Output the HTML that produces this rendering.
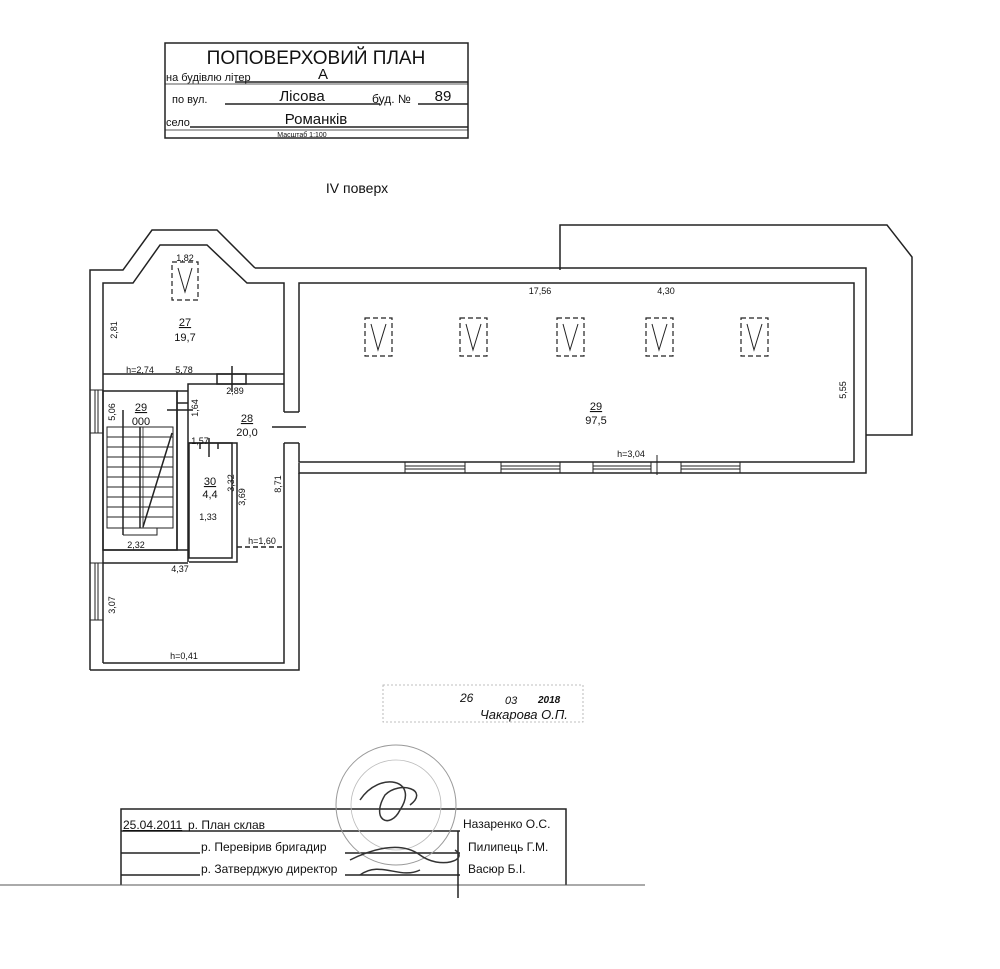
<!DOCTYPE html>
<html><head><meta charset="utf-8"><style>
html,body{margin:0;padding:0;background:#fff}
svg{display:block}
text{font-family:"Liberation Sans","DejaVu Sans",sans-serif;fill:#111}
</style></head><body>
<svg width="1000" height="969" viewBox="0 0 1000 969" xmlns="http://www.w3.org/2000/svg">
<g fill="none" stroke="#222" stroke-width="1.5">
<!-- title block -->
<rect x="165" y="43" width="303" height="95"/>
<line x1="235" y1="82" x2="468" y2="82"/>
<line x1="165" y1="84" x2="468" y2="84" stroke-width="0.8"/>
<line x1="225" y1="104" x2="380" y2="104"/>
<line x1="418" y1="104" x2="468" y2="104"/>
<line x1="190" y1="127" x2="468" y2="127"/>
<line x1="165" y1="130" x2="468" y2="130" stroke-width="0.8"/>

<!-- annex -->
<polyline points="560,270 560,225 887,225 912,257 912,435 866,435"/>
<!-- main building outer/inner -->
<polyline points="255,268 866,268 866,473 299,473 299,463"/>
<polyline points="299,412 299,283 854,283 854,462 299,462 299,443"/>
<!-- left building -->
<polyline points="90,670 90,270 123,270 152,230 217,230 255,268"/>
<polyline points="90,670 299,670 299,473"/>
<polyline points="103,663 103,283 133,283 160,245 207,245 247,283 284,283 284,412"/>
<polyline points="284,443 284,663 103,663"/>
<line x1="284" y1="412" x2="299" y2="412"/><line x1="284" y1="443" x2="299" y2="443"/>
<line x1="272" y1="427" x2="306" y2="427"/>
<!-- windows in bottom wall -->
<g stroke-width="1">
<rect x="405" y="462" width="60" height="11"/><line x1="405" y1="466" x2="465" y2="466"/><line x1="405" y1="469" x2="465" y2="469"/>
<rect x="501" y="462" width="59" height="11"/><line x1="501" y1="466" x2="560" y2="466"/><line x1="501" y1="469" x2="560" y2="469"/>
<rect x="593" y="462" width="58" height="11"/><line x1="593" y1="466" x2="651" y2="466"/><line x1="593" y1="469" x2="651" y2="469"/>
<rect x="681" y="462" width="59" height="11"/><line x1="681" y1="466" x2="740" y2="466"/><line x1="681" y1="469" x2="740" y2="469"/>
<line x1="657" y1="455" x2="657" y2="475"/>
<!-- left windows -->
<rect x="90" y="390" width="13" height="43"/><line x1="95" y1="390" x2="95" y2="433"/><line x1="98" y1="390" x2="98" y2="433"/>
<rect x="90" y="563" width="13" height="57"/><line x1="95" y1="563" x2="95" y2="620"/><line x1="98" y1="563" x2="98" y2="620"/>
</g>
<!-- interior walls -->
<line x1="103" y1="374" x2="284" y2="374"/>
<rect x="217" y="374" width="29" height="10"/>
<line x1="232" y1="366" x2="232" y2="392"/>
<polyline points="188,562 188,384 284,384"/>
<rect x="103" y="391" width="74" height="159"/>
<line x1="177" y1="391" x2="177" y2="550"/>
<line x1="177" y1="391" x2="188" y2="391"/>
<line x1="177" y1="403" x2="188" y2="403"/>
<line x1="167" y1="410" x2="193" y2="410"/>
<line x1="103" y1="550" x2="188" y2="550"/>
<line x1="103" y1="563" x2="188" y2="563"/>
<rect x="189" y="443" width="43" height="115"/>
<polyline points="189,443 237,443 237,562 189,562"/>
<line x1="200" y1="443" x2="200" y2="449"/><line x1="218" y1="443" x2="218" y2="449"/>
<line x1="209" y1="438" x2="209" y2="457"/>
<line x1="237" y1="547" x2="284" y2="547" stroke-dasharray="5,3"/>
<!-- stairs -->
<rect x="107" y="427" width="66" height="101" stroke-width="1"/>
<line x1="123" y1="410" x2="123" y2="535"/>
<line x1="140" y1="427" x2="140" y2="528"/>
<line x1="143" y1="427" x2="143" y2="528" stroke-width="0.8"/>
<polyline points="123,535 157,535 157,528" stroke-width="1"/>
<g stroke-width="1">
<line x1="107" y1="437" x2="173" y2="437"/><line x1="107" y1="447" x2="173" y2="447"/>
<line x1="107" y1="457" x2="173" y2="457"/><line x1="107" y1="467" x2="173" y2="467"/>
<line x1="107" y1="477" x2="173" y2="477"/><line x1="107" y1="487" x2="173" y2="487"/>
<line x1="107" y1="497" x2="173" y2="497"/><line x1="107" y1="507" x2="173" y2="507"/>
<line x1="107" y1="517" x2="173" y2="517"/>
</g>
<line x1="143" y1="527" x2="172" y2="433"/>
<!-- skylights -->
<g stroke-dasharray="5,3" stroke-width="1.2">
<rect x="172" y="262" width="26" height="38"/>
<rect x="365" y="318" width="27" height="38"/>
<rect x="460" y="318" width="27" height="38"/>
<rect x="557" y="318" width="27" height="38"/>
<rect x="646" y="318" width="27" height="38"/>
<rect x="741" y="318" width="27" height="38"/>
</g>
<g stroke-width="1">
<polyline points="178,268 185,292 192,268"/>
<polyline points="371,324 378,350 386,324"/>
<polyline points="466,324 473,350 481,324"/>
<polyline points="563,324 570,350 578,324"/>
<polyline points="652,324 659,350 667,324"/>
<polyline points="747,324 754,350 762,324"/>
</g>
<!-- bottom block -->
<polyline points="121,885 121,809 566,809 566,885"/>
<line x1="121" y1="831" x2="460" y2="831"/>
<line x1="121" y1="853" x2="200" y2="853"/><line x1="345" y1="853" x2="460" y2="853"/>
<line x1="121" y1="875" x2="200" y2="875"/><line x1="345" y1="875" x2="460" y2="875"/>
<line x1="0" y1="885" x2="645" y2="885" stroke-width="1" stroke="#555"/>
<line x1="458" y1="831" x2="458" y2="898"/>
<!-- stamp -->
<circle cx="396" cy="805" r="60" stroke="#999" stroke-width="1"/>
<circle cx="396" cy="805" r="45" stroke="#bbb" stroke-width="0.8"/>
<path d="M360,800 C380,770 420,780 400,810 C390,830 370,820 385,795 C400,780 430,790 410,805" stroke="#333"/>
<path d="M350,860 C370,850 400,840 420,855 C440,870 470,860 455,850" stroke="#333"/>
<path d="M360,875 C380,860 400,880 420,870" stroke="#333"/>
<!-- date stamp -->
<rect x="383" y="685" width="200" height="37" stroke="#aaa" stroke-dasharray="2,2" stroke-width="0.8"/>
</g>
<!-- texts -->
<text x="316" y="64" font-size="19" text-anchor="middle">ПОПОВЕРХОВИЙ ПЛАН</text>
<text x="166" y="81" font-size="11">на будівлю літер</text>
<text x="323" y="79" font-size="15" text-anchor="middle">А</text>
<text x="172" y="103" font-size="11">по вул.</text>
<text x="302" y="101" font-size="15" text-anchor="middle">Лісова</text>
<text x="372" y="103" font-size="12">буд. №</text>
<text x="443" y="101" font-size="15" text-anchor="middle">89</text>
<text x="166" y="126" font-size="11">село</text>
<text x="316" y="124" font-size="15" text-anchor="middle">Романків</text>
<text x="302" y="137" font-size="7" text-anchor="middle">Масштаб 1:100</text>
<text x="357" y="193" font-size="14" text-anchor="middle">IV поверх</text>

<g font-size="9" text-anchor="middle">
<text x="185" y="261">1,82</text>
<text x="185" y="326" font-size="11" text-decoration="underline">27</text>
<text x="185" y="341" font-size="11">19,7</text>
<text x="0" y="0" transform="translate(117,330) rotate(-90)">2,81</text>
<text x="140" y="373">h=2,74</text>
<text x="184" y="373">5,78</text>
<text x="235" y="394">2,89</text>
<text x="141" y="411" font-size="11" text-decoration="underline">29</text>
<text x="141" y="425" font-size="11">000</text>
<text x="0" y="0" transform="translate(115,412) rotate(-90)">5,06</text>
<text x="0" y="0" transform="translate(198,408) rotate(-90)">1,64</text>
<text x="247" y="422" font-size="11" text-decoration="underline">28</text>
<text x="247" y="436" font-size="11">20,0</text>
<text x="200" y="444">1,57</text>
<text x="210" y="485" font-size="11" text-decoration="underline">30</text>
<text x="210" y="498" font-size="11">4,4</text>
<text x="0" y="0" transform="translate(234,483) rotate(-90)">3,32</text>
<text x="0" y="0" transform="translate(245,497) rotate(-90)">3,69</text>
<text x="0" y="0" transform="translate(281,484) rotate(-90)">8,71</text>
<text x="208" y="520">1,33</text>
<text x="262" y="544">h=1,60</text>
<text x="136" y="548">2,32</text>
<text x="180" y="572">4,37</text>
<text x="0" y="0" transform="translate(115,605) rotate(-90)">3,07</text>
<text x="184" y="659">h=0,41</text>
<text x="540" y="294">17,56</text>
<text x="666" y="294">4,30</text>
<text x="596" y="410" font-size="11" text-decoration="underline">29</text>
<text x="596" y="424" font-size="11">97,5</text>
<text x="631" y="457">h=3,04</text>
<text x="0" y="0" transform="translate(846,390) rotate(-90)">5,55</text>
</g>

<text x="460" y="702" font-size="12" font-style="italic">26</text>
<text x="505" y="704" font-size="11" font-style="italic">03</text>
<text x="538" y="703" font-size="10" font-style="italic" font-weight="bold">2018</text>
<text x="480" y="719" font-size="13" font-style="italic">Чакарова О.П.</text>

<text x="123" y="829" font-size="12" text-decoration="underline">25.04.2011</text>
<text x="188" y="829" font-size="12">р. План склав</text>
<text x="201" y="851" font-size="12">р. Перевірив бригадир</text>
<text x="201" y="873" font-size="12">р. Затверджую директор</text>
<text x="463" y="828" font-size="12">Назаренко О.С.</text>
<text x="468" y="851" font-size="12">Пилипець Г.М.</text>
<text x="468" y="873" font-size="12">Васюр Б.І.</text>
</svg>
</body></html>
